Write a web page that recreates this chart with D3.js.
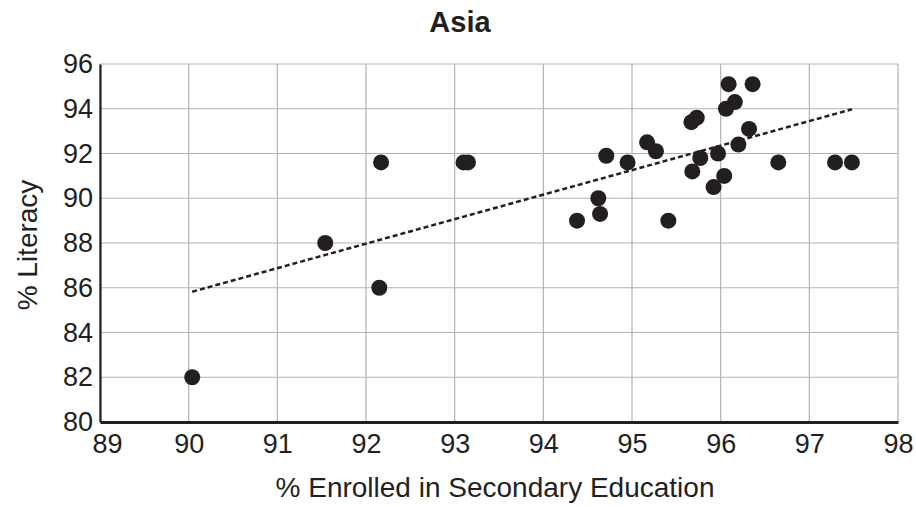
<!DOCTYPE html>
<html>
<head>
<meta charset="utf-8">
<script src="https://cdn.jsdelivr.net/npm/d3@7"></script>
<style>
  html, body { margin: 0; padding: 0; background: #fff; }
  svg { display: block; font-family: "Liberation Sans", Arial, sans-serif; }
</style>
</head>
<body>
<svg id="chart" width="916" height="507"></svg>
<script>
const title = "Asia";
const xLabel = "% Enrolled in Secondary Education";
const yLabel = "% Literacy";
const xTicks = [89, 90, 91, 92, 93, 94, 95, 96, 97, 98];
const yTicks = [80, 82, 84, 86, 88, 90, 92, 94, 96];
const enrolled = [90.04, 91.54, 92.15, 92.17, 93.10, 93.15, 94.38, 94.62, 94.64, 94.71,
                  94.95, 95.17, 95.27, 95.41, 95.67, 95.68, 95.73, 95.77, 95.92, 95.97,
                  96.04, 96.06, 96.09, 96.16, 96.20, 96.32, 96.36, 96.65, 97.29, 97.48];
const literacy = [82.0, 88.0, 86.0, 91.6, 91.6, 91.6, 89.0, 90.0, 89.3, 91.9,
                  91.6, 92.5, 92.1, 89.0, 93.4, 91.2, 93.6, 91.8, 90.5, 92.0,
                  91.0, 94.0, 95.1, 94.3, 92.4, 93.1, 95.1, 91.6, 91.6, 91.6];

const svg = d3.select("#chart");
const W = 916, H = 507;
const m = { top: 64, right: 18, bottom: 85, left: 100 };

const x = d3.scaleLinear().domain([89, 98]).range([m.left, W - m.right]);
const y = d3.scaleLinear().domain([80, 96]).range([H - m.bottom, m.top]);

// grid
svg.append("g").selectAll("line.v").data(xTicks).join("line")
  .attr("x1", d => x(d)).attr("x2", d => x(d))
  .attr("y1", y(96)).attr("y2", y(80))
  .attr("stroke", "#b3b3b3").attr("stroke-width", 1.2);
svg.append("g").selectAll("line.h").data(yTicks).join("line")
  .attr("x1", x(89)).attr("x2", x(98))
  .attr("y1", d => y(d)).attr("y2", d => y(d))
  .attr("stroke", "#b3b3b3").attr("stroke-width", 1.2);

// axes
const xAxis = svg.append("g").attr("transform", `translate(0,${y(80)})`)
  .call(d3.axisBottom(x).tickValues(xTicks).tickFormat(d3.format("d")).tickSize(0).tickPadding(12));
xAxis.select(".domain").attr("stroke", "#231f20").attr("stroke-width", 3);
xAxis.selectAll("text").attr("font-size", 27).attr("fill", "#231f20")
  .attr("font-family", "Liberation Sans, Arial, sans-serif")
  .attr("dx", (d, i) => i === 0 ? 7 : 0);

const yAxis = svg.append("g").attr("transform", `translate(${x(89)},0)`)
  .call(d3.axisLeft(y).tickValues(yTicks).tickFormat(d3.format("d")).tickSize(0).tickPadding(7));
yAxis.select(".domain").attr("stroke", "#231f20").attr("stroke-width", 2.2);
yAxis.selectAll("text").attr("font-size", 27).attr("fill", "#231f20")
  .attr("font-family", "Liberation Sans, Arial, sans-serif");

// trend line (least squares)
const n = enrolled.length;
const mx = d3.mean(enrolled), my = d3.mean(literacy);
let sxy = 0, sxx = 0;
for (let i = 0; i < n; i++) { sxy += (enrolled[i] - mx) * (literacy[i] - my); sxx += (enrolled[i] - mx) ** 2; }
const slope = sxy / sxx, icpt = my - slope * mx;
const [xmin, xmax] = d3.extent(enrolled);
svg.append("line")
  .attr("x1", x(xmin)).attr("y1", y(icpt + slope * xmin))
  .attr("x2", x(xmax)).attr("y2", y(icpt + slope * xmax))
  .attr("stroke", "#231f20").attr("stroke-width", 2.5)
  .attr("stroke-dasharray", "5,3");

// points
svg.append("g").selectAll("circle").data(enrolled).join("circle")
  .attr("cx", d => x(d)).attr("cy", (d, i) => y(literacy[i]))
  .attr("r", 8).attr("fill", "#231f20");

// titles
svg.append("text").attr("x", 460).attr("y", 32).attr("text-anchor", "middle")
  .attr("font-size", 29).attr("font-weight", "bold").attr("fill", "#231f20").text(title);
svg.append("text").attr("x", 495).attr("y", 497).attr("text-anchor", "middle")
  .attr("font-size", 28).attr("fill", "#231f20").text(xLabel);
svg.append("text").attr("transform", `translate(37,245) rotate(-90)`).attr("text-anchor", "middle")
  .attr("font-size", 28).attr("fill", "#231f20").text(yLabel);
</script>
</body>
</html>
